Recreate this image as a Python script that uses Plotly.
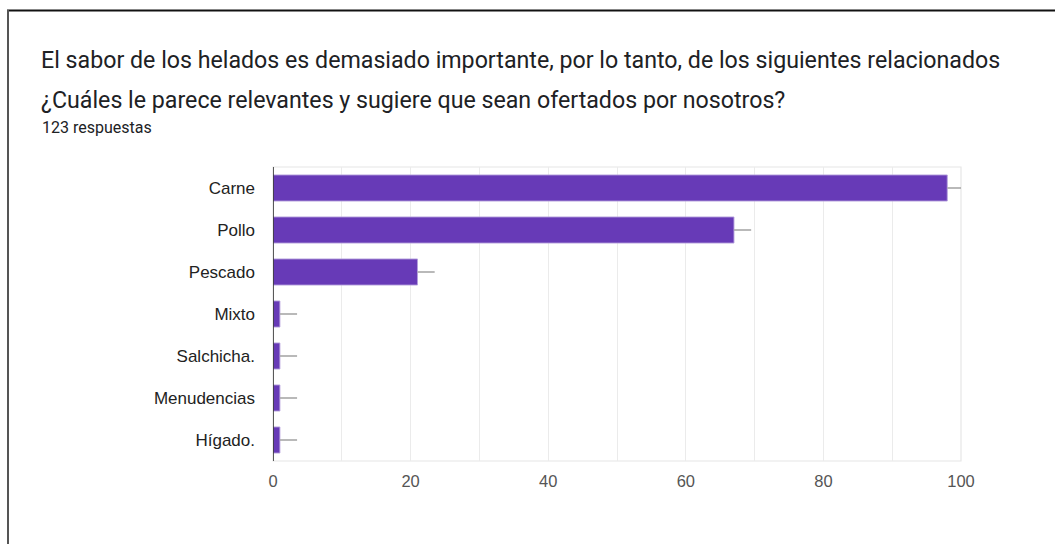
import plotly.graph_objects as go

# Survey answers: flavour options and number of respondents choosing each
categories = ["Carne", "Pollo", "Pescado", "Mixto", "Salchicha.", "Menudencias", "Hígado."]
counts = [98, 67, 21, 1, 1, 1, 1]
# short leader strokes drawn after each bar end (Carne's is cut at the axis limit)
leader = [2, 2.5, 2.5, 2.5, 2.5, 2.5, 2.5]
x_ticks = [0, 20, 40, 60, 80, 100]

title_1 = "El sabor de los helados es demasiado importante, por lo tanto, de los siguientes relacionados"
title_2 = "¿Cuáles le parece relevantes y sugiere que sean ofertados por nosotros?"
subtitle = "123 respuestas"

W, H = 1055, 544
L, R, T, B = 273, 94, 167, 83
pw, ph = W - L - R, H - T - B


def px_x(px):
    return (px - L) / pw


def px_y(py):
    return (H - B - py) / ph


axis_font = "'Liberation Sans', Arial, sans-serif"
title_font = "Roboto, Arial, sans-serif"

fig = go.Figure()
fig.add_trace(go.Bar(
    x=counts,
    y=categories,
    orientation="h",
    marker=dict(color="#673ab7", line=dict(color="rgba(179,157,219,0.9)", width=1)),
    error_x=dict(type="data", symmetric=False, array=leader,
                 arrayminus=[0] * len(leader), width=0,
                 color="#a8a8a8", thickness=1.6),
    hoverinfo="skip",
))

fig.update_layout(
    width=W, height=H,
    margin=dict(l=L, r=R, t=T, b=B, pad=0),
    paper_bgcolor="white", plot_bgcolor="white",
    showlegend=False,
    bargap=0.38,
    font=dict(family=axis_font, color="#222"),
    xaxis=dict(
        range=[0, 100], tickvals=x_ticks, ticktext=[str(v) for v in x_ticks],
        showgrid=True, gridcolor="#ebebeb", gridwidth=1,
        minor=dict(dtick=10, showgrid=True, gridcolor="#ebebeb", gridwidth=1),
        zeroline=False, showline=False, ticks="",
        tickfont=dict(family=axis_font, size=16.5, color="#555"),
        ticklabelstandoff=8, fixedrange=True,
    ),
    yaxis=dict(
        categoryorder="array", categoryarray=categories, autorange="reversed",
        showgrid=False, zeroline=False, showline=False, ticks="",
        tickfont=dict(family=axis_font, size=17, color="#222"),
        ticklabelstandoff=17, fixedrange=True,
    ),
)

shapes = [
    # light frame around the plotting area
    dict(type="rect", xref="paper", yref="paper", x0=0, x1=1, y0=0, y1=1,
         line=dict(color="#e6e6e6", width=1.2), fillcolor="rgba(0,0,0,0)", layer="below"),
    # dark baseline at zero
    dict(type="line", xref="x", yref="paper", x0=0, x1=0, y0=0, y1=1,
         line=dict(color="#333333", width=1.6), layer="above"),
    # card outline: top and left edges
    dict(type="line", xref="paper", yref="paper", x0=px_x(7), x1=px_x(1060),
         y0=px_y(10.5), y1=px_y(10.5), line=dict(color="#111111", width=1.8)),
    dict(type="line", xref="paper", yref="paper", x0=px_x(8), x1=px_x(8),
         y0=px_y(10), y1=px_y(560), line=dict(color="#555555", width=2)),
]
fig.update_layout(shapes=shapes)

fig.add_annotation(text=title_1, xref="paper", yref="paper", x=px_x(39), y=px_y(60),
                   xanchor="left", yanchor="middle", showarrow=False,
                   font=dict(family=title_font, size=23.2, color="#202124"))
fig.add_annotation(text=title_2, xref="paper", yref="paper", x=px_x(39), y=px_y(100),
                   xanchor="left", yanchor="middle", showarrow=False,
                   font=dict(family=title_font, size=23.2, color="#202124"))
fig.add_annotation(text=subtitle, xref="paper", yref="paper", x=px_x(40), y=px_y(127),
                   xanchor="left", yanchor="middle", showarrow=False,
                   font=dict(family=title_font, size=16, color="#202124"))

fig.write_html("out.html", config={"displayModeBar": False})
